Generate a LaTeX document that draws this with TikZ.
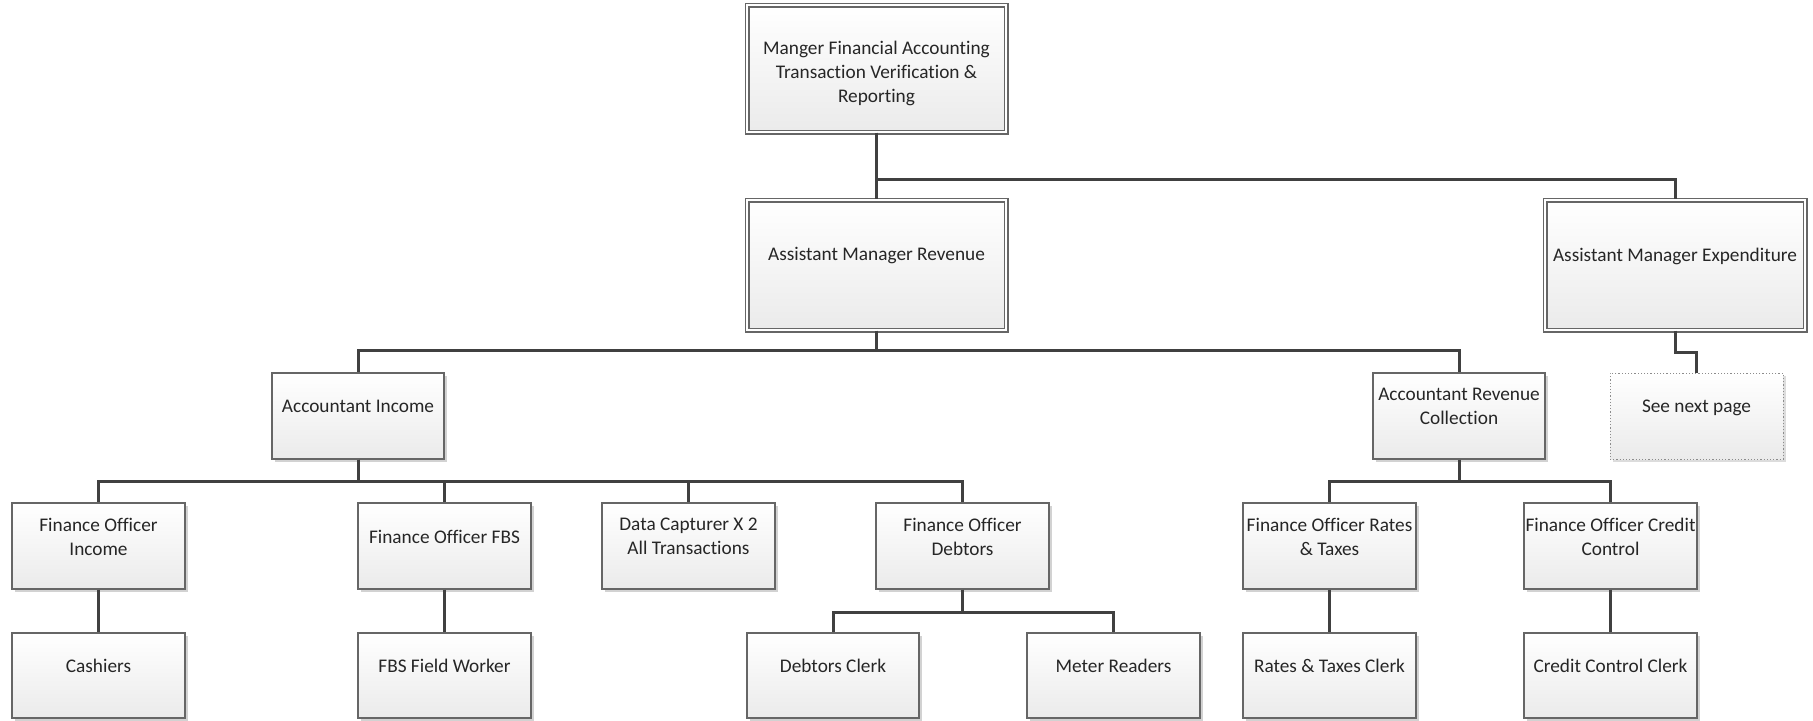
\documentclass[tikz,border=0pt]{standalone}
\usepackage{fontspec}
\setmainfont{Carlito}[Ligatures=NoCommon]
\usetikzlibrary{shadows}

% \obox{style}{name}{x1}{y1}{x2}{y2}{text y}{text}  -- coordinates in pixels
\newcommand\obox[8]{%
  \node[#1, minimum width={(#5-#3)*0.5pt}, minimum height={(#6-#4)*0.5pt}]
    (#2) at ({(#3+#5)/2},{(#4+#6)/2}) {};
  \node[lbl] (#2-t) at ({(#3+#5)/2},{#7+1.5}) {#8};}

\begin{document}
\begin{tikzpicture}[x=0.5pt,y=-0.5pt,
  lbl/.style={font=\fontsize{9.65pt}{12pt}\selectfont, align=center, inner sep=0pt, text=black!85},
  box/.style={draw=black!60, line width=0.6pt, shading=axis, top color=white,
    bottom color=black!8, inner sep=0pt,
    drop shadow={shadow xshift=1.3pt, shadow yshift=-1.3pt, fill=black!22, opacity=0.8}},
  mgr/.style={box, double=white, double distance=1.4pt, line width=0.55pt},
  ref/.style={box, draw=black!45, densely dotted, line width=0.5pt,
    drop shadow={shadow xshift=1.3pt, shadow yshift=-1.3pt, fill=black!12, opacity=0.8}},
  link/.style={draw=black!75, line width=1.5pt}]

\useasboundingbox (0,0) rectangle (1813,720);

% managers
\obox{mgr}{top}{747}{5}{1006}{132}{72}{Manger Financial Accounting\\Transaction Verification \&\\Reporting}
\obox{mgr}{rev}{747}{200}{1006}{330}{254}{Assistant Manager Revenue}
\obox{mgr}{exp}{1545}{200}{1805}{330}{255}{Assistant Manager Expenditure}
\obox{ref}{snp}{1610}{373}{1783}{459}{406}{See next page}

% accountants
\obox{box}{ai}{272}{373}{444}{459}{405}{Accountant Income}
\obox{box}{arc}{1373}{373}{1545}{459}{405}{Accountant Revenue\\Collection}

% finance officers
\obox{box}{foi}{12}{503}{185}{589}{535}{Finance Officer\\Income}
\obox{box}{fbs}{358}{503}{531}{589}{535}{Finance Officer FBS}
\obox{box}{dc}{602}{503}{775}{589}{535}{Data Capturer X 2\\All Transactions}
\obox{box}{fod}{876}{503}{1049}{589}{535}{Finance Officer\\Debtors}
\obox{box}{for}{1243}{503}{1416}{589}{535}{Finance Officer Rates\\\& Taxes}
\obox{box}{foc}{1524}{503}{1697}{589}{535}{Finance Officer Credit\\Control}

% clerks
\obox{box}{cash}{12}{633}{185}{718}{664}{Cashiers}
\obox{box}{fbsw}{358}{633}{531}{718}{664}{FBS Field Worker}
\obox{box}{dcl}{747}{633}{919}{718}{664}{Debtors Clerk}
\obox{box}{mr}{1027}{633}{1200}{718}{664}{Meter Readers}
\obox{box}{rtc}{1243}{633}{1416}{718}{664}{Rates \& Taxes Clerk}
\obox{box}{ccc}{1524}{633}{1697}{718}{664}{Credit Control Clerk}

% reporting lines
\draw[link] (top.south) -- (rev.north);
\draw[link] (top.south) -- ++(0,47) -| (exp.north);
\draw[link] (rev.south) -- ++(0,20) -| (ai.north);
\draw[link] (rev.south) -- ++(0,20) -| (arc.north);
\draw[link] (exp.south) -- ++(0,22) -| (snp.north);
\foreach \c in {foi,fbs,dc,fod}
  \draw[link] (ai.south) -- ++(0,22) -| (\c.north);
\foreach \c in {for,foc}
  \draw[link] (arc.south) -- ++(0,22) -| (\c.north);
\draw[link] (foi.south) -- (cash.north);
\draw[link] (fbs.south) -- (fbsw.north);
\draw[link] (fod.south) -- ++(0,23) -| (dcl.north);
\draw[link] (fod.south) -- ++(0,23) -| (mr.north);
\draw[link] (for.south) -- (rtc.north);
\draw[link] (foc.south) -- (ccc.north);
\end{tikzpicture}
\end{document}
